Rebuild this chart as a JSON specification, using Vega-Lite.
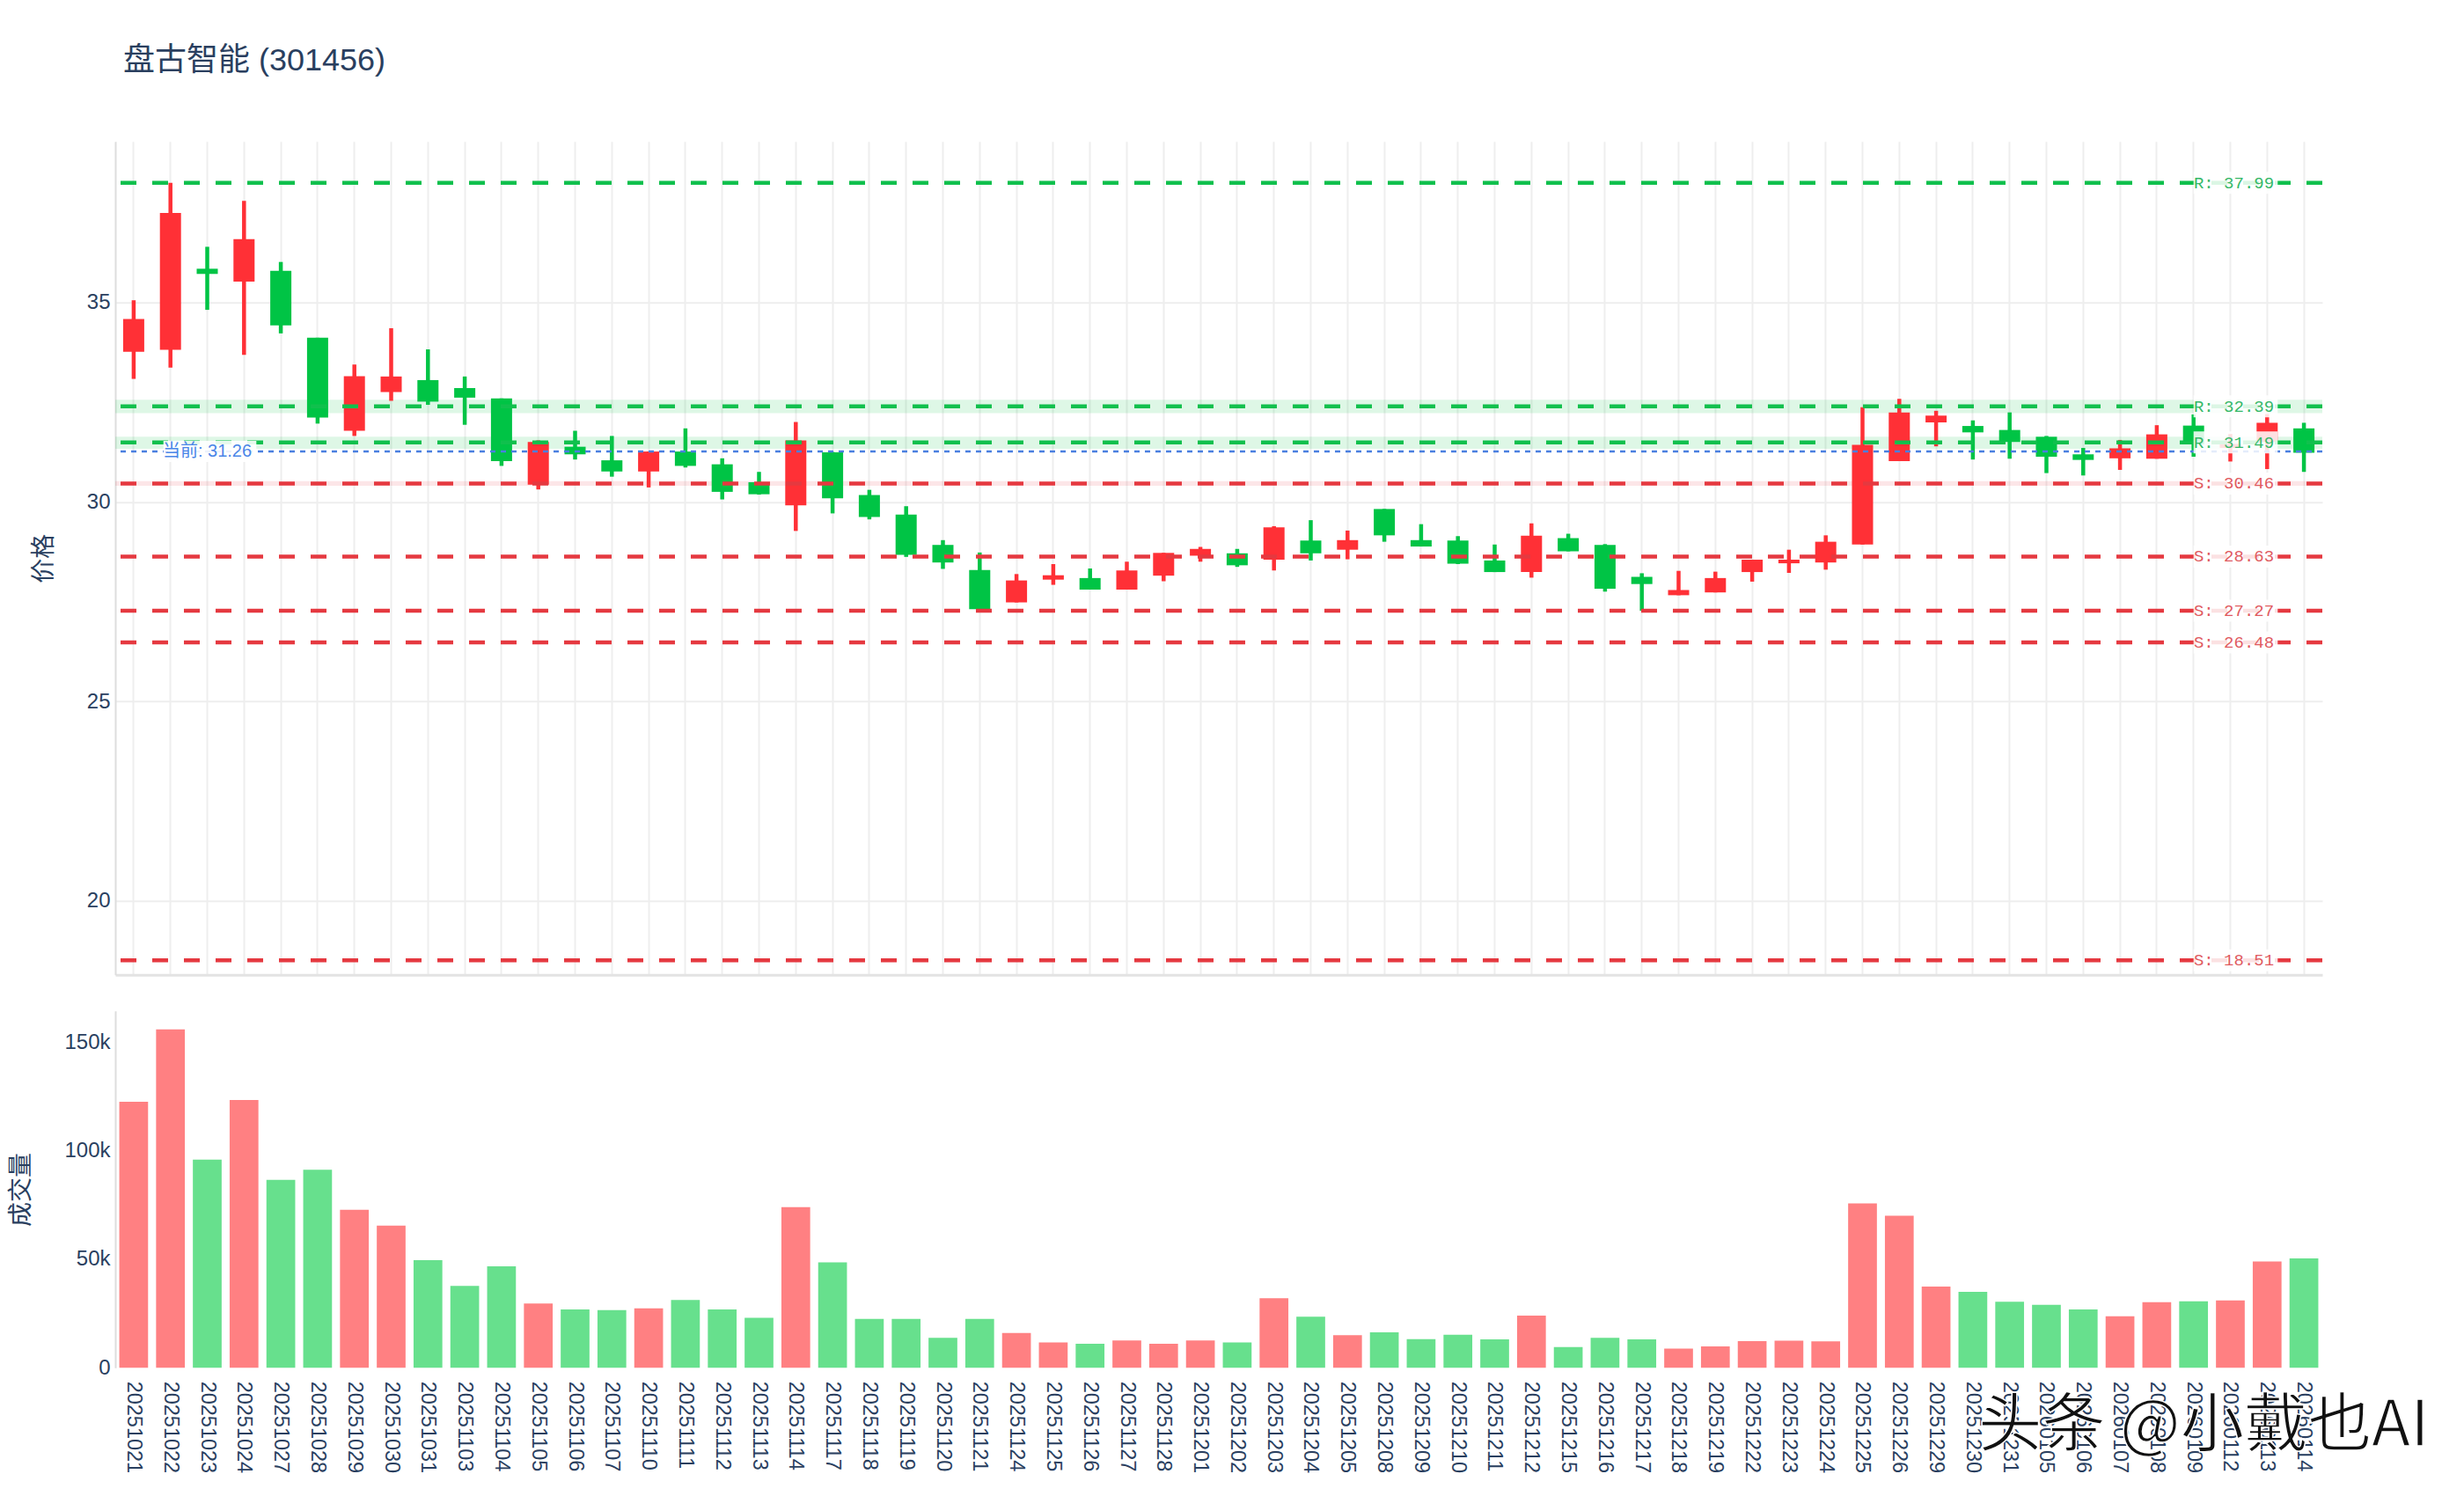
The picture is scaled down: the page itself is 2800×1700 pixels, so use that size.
{"$schema":"https://vega.github.io/schema/vega-lite/v6.json","background":"white","padding":{"left":10,"top":50.7,"right":10,"bottom":0},"spacing":41,"config":{"view":{"stroke":null},"font":"Liberation Sans, Noto Sans CJK SC","axis":{"labelColor":"#2a3f5f","titleColor":"#2a3f5f","labelFont":"Liberation Sans, Noto Sans CJK SC","titleFont":"Noto Sans CJK SC","titleFontWeight":"normal"}},"datasets":{"k":[
{"date":"20251021","top":34.58,"bottom":33.76,"high":35.05,"low":33.08,"vol":122500,"dir":"up"},
{"date":"20251022","top":37.24,"bottom":33.81,"high":37.99,"low":33.36,"vol":155900,"dir":"up"},
{"date":"20251023","top":35.84,"bottom":35.71,"high":36.39,"low":34.81,"vol":95900,"dir":"down"},
{"date":"20251024","top":36.58,"bottom":35.52,"high":37.54,"low":33.68,"vol":123300,"dir":"up"},
{"date":"20251027","top":35.79,"bottom":34.42,"high":36.01,"low":34.22,"vol":86500,"dir":"down"},
{"date":"20251028","top":34.11,"bottom":32.11,"high":34.11,"low":31.96,"vol":91200,"dir":"down"},
{"date":"20251029","top":33.15,"bottom":31.78,"high":33.44,"low":31.65,"vol":72700,"dir":"up"},
{"date":"20251030","top":33.14,"bottom":32.75,"high":34.35,"low":32.53,"vol":65500,"dir":"up"},
{"date":"20251031","top":33.05,"bottom":32.51,"high":33.82,"low":32.43,"vol":49500,"dir":"down"},
{"date":"20251103","top":32.85,"bottom":32.61,"high":33.14,"low":31.93,"vol":37700,"dir":"down"},
{"date":"20251104","top":32.59,"bottom":31.02,"high":32.59,"low":30.9,"vol":46700,"dir":"down"},
{"date":"20251105","top":31.5,"bottom":30.43,"high":31.54,"low":30.31,"vol":29600,"dir":"up"},
{"date":"20251106","top":31.38,"bottom":31.19,"high":31.78,"low":31.06,"vol":26800,"dir":"down"},
{"date":"20251107","top":31.04,"bottom":30.76,"high":31.65,"low":30.63,"vol":26500,"dir":"down"},
{"date":"20251110","top":31.26,"bottom":30.76,"high":31.26,"low":30.36,"vol":27300,"dir":"up"},
{"date":"20251111","top":31.26,"bottom":30.9,"high":31.84,"low":30.86,"vol":31200,"dir":"down"},
{"date":"20251112","top":30.94,"bottom":30.25,"high":31.09,"low":30.06,"vol":26800,"dir":"down"},
{"date":"20251113","top":30.49,"bottom":30.19,"high":30.75,"low":30.18,"vol":23000,"dir":"down"},
{"date":"20251114","top":31.54,"bottom":29.91,"high":32.0,"low":29.27,"vol":74000,"dir":"up"},
{"date":"20251117","top":31.24,"bottom":30.09,"high":31.25,"low":29.71,"vol":48500,"dir":"down"},
{"date":"20251118","top":30.17,"bottom":29.62,"high":30.3,"low":29.56,"vol":22500,"dir":"down"},
{"date":"20251119","top":29.68,"bottom":28.67,"high":29.89,"low":28.62,"vol":22500,"dir":"down"},
{"date":"20251120","top":28.92,"bottom":28.48,"high":29.04,"low":28.32,"vol":13800,"dir":"down"},
{"date":"20251121","top":28.29,"bottom":27.31,"high":28.73,"low":27.28,"vol":22500,"dir":"down"},
{"date":"20251124","top":28.03,"bottom":27.48,"high":28.19,"low":27.48,"vol":16000,"dir":"up"},
{"date":"20251125","top":28.16,"bottom":28.05,"high":28.44,"low":27.92,"vol":11600,"dir":"up"},
{"date":"20251126","top":28.09,"bottom":27.8,"high":28.33,"low":27.8,"vol":11000,"dir":"down"},
{"date":"20251127","top":28.28,"bottom":27.8,"high":28.5,"low":27.8,"vol":12500,"dir":"up"},
{"date":"20251128","top":28.72,"bottom":28.15,"high":28.72,"low":28.01,"vol":11000,"dir":"up"},
{"date":"20251201","top":28.82,"bottom":28.65,"high":28.87,"low":28.5,"vol":12500,"dir":"up"},
{"date":"20251202","top":28.71,"bottom":28.41,"high":28.82,"low":28.37,"vol":11600,"dir":"down"},
{"date":"20251203","top":29.36,"bottom":28.55,"high":29.39,"low":28.28,"vol":32000,"dir":"up"},
{"date":"20251204","top":29.03,"bottom":28.71,"high":29.54,"low":28.53,"vol":23500,"dir":"down"},
{"date":"20251205","top":29.04,"bottom":28.8,"high":29.28,"low":28.56,"vol":15000,"dir":"up"},
{"date":"20251208","top":29.82,"bottom":29.16,"high":29.82,"low":29.0,"vol":16300,"dir":"down"},
{"date":"20251209","top":29.04,"bottom":28.88,"high":29.44,"low":28.88,"vol":13200,"dir":"down"},
{"date":"20251210","top":29.03,"bottom":28.45,"high":29.14,"low":28.44,"vol":15200,"dir":"down"},
{"date":"20251211","top":28.53,"bottom":28.24,"high":28.93,"low":28.24,"vol":13000,"dir":"down"},
{"date":"20251212","top":29.15,"bottom":28.24,"high":29.46,"low":28.1,"vol":24000,"dir":"up"},
{"date":"20251215","top":29.09,"bottom":28.76,"high":29.2,"low":28.76,"vol":9500,"dir":"down"},
{"date":"20251216","top":28.92,"bottom":27.82,"high":28.94,"low":27.75,"vol":13800,"dir":"down"},
{"date":"20251217","top":28.12,"bottom":27.94,"high":28.21,"low":27.27,"vol":13000,"dir":"down"},
{"date":"20251218","top":27.79,"bottom":27.66,"high":28.27,"low":27.66,"vol":8800,"dir":"up"},
{"date":"20251219","top":28.09,"bottom":27.73,"high":28.25,"low":27.73,"vol":9800,"dir":"up"},
{"date":"20251222","top":28.55,"bottom":28.24,"high":28.55,"low":28.0,"vol":12250,"dir":"up"},
{"date":"20251223","top":28.55,"bottom":28.46,"high":28.8,"low":28.22,"vol":12400,"dir":"up"},
{"date":"20251224","top":29.0,"bottom":28.48,"high":29.16,"low":28.3,"vol":12100,"dir":"up"},
{"date":"20251225","top":31.43,"bottom":28.93,"high":32.37,"low":28.93,"vol":75700,"dir":"up"},
{"date":"20251226","top":32.24,"bottom":31.02,"high":32.58,"low":31.02,"vol":70000,"dir":"up"},
{"date":"20251229","top":32.16,"bottom":31.99,"high":32.28,"low":31.39,"vol":37400,"dir":"up"},
{"date":"20251230","top":31.9,"bottom":31.74,"high":32.04,"low":31.06,"vol":34900,"dir":"down"},
{"date":"20251231","top":31.8,"bottom":31.5,"high":32.24,"low":31.08,"vol":30400,"dir":"down"},
{"date":"20260105","top":31.63,"bottom":31.13,"high":31.65,"low":30.72,"vol":29000,"dir":"down"},
{"date":"20260106","top":31.19,"bottom":31.05,"high":31.35,"low":30.66,"vol":26800,"dir":"down"},
{"date":"20260107","top":31.34,"bottom":31.09,"high":31.55,"low":30.8,"vol":23700,"dir":"up"},
{"date":"20260108","top":31.69,"bottom":31.08,"high":31.92,"low":31.08,"vol":30200,"dir":"up"},
{"date":"20260109","top":31.91,"bottom":31.44,"high":32.19,"low":31.13,"vol":30600,"dir":"down"},
{"date":"20260112","top":31.45,"bottom":31.35,"high":31.7,"low":31.01,"vol":31000,"dir":"up"},
{"date":"20260113","top":31.98,"bottom":31.5,"high":32.2,"low":30.82,"vol":48900,"dir":"up"},
{"date":"20260114","top":31.84,"bottom":31.23,"high":31.98,"low":30.75,"vol":50300,"dir":"down"}],
"levels":[
{"price":37.99,"kind":"R","label":"R: 37.99"},
{"price":32.39,"kind":"R","label":"R: 32.39"},
{"price":31.49,"kind":"R","label":"R: 31.49"},
{"price":30.46,"kind":"S","label":"S: 30.46"},
{"price":28.63,"kind":"S","label":"S: 28.63"},
{"price":27.27,"kind":"S","label":"S: 27.27"},
{"price":26.48,"kind":"S","label":"S: 26.48"},
{"price":18.51,"kind":"S","label":"S: 18.51"}],
"zones":[
{"lo":32.22,"hi":32.56,"kind":"R"},
{"lo":31.33,"hi":31.63,"kind":"R"},
{"lo":30.4,"hi":30.52,"kind":"S"}],
"current":[{"price":31.26,"label":"当前: 31.26"}],
"mark":[{"label":"头条 @小戴也AI"}]},
"vconcat":[
{"width":2508,"height":947,
"title":{"text":"盘古智能 (301456)","anchor":"start","frame":"group","dx":9,"offset":72.7,"fontSize":36,"font":"Liberation Sans, Noto Sans CJK SC","fontWeight":"normal","color":"#2a3f5f"},
"encoding":{"x":{"field":"date","type":"ordinal","sort":null,"scale":{"type":"band","paddingInner":0,"paddingOuter":0},"axis":{"title":null,"labels":false,"ticks":false,"grid":true,"gridColor":"#eeeeee","gridWidth":2,"domainColor":"#e3e3e3","domainWidth":3}}},
"layer":[
{"data":{"name":"zones"},"mark":{"type":"rect","opacity":0.13},"encoding":{"x":null,"y":{"field":"lo","type":"quantitative","scale":{"domain":[18.15,39.03],"nice":false,"zero":false},"axis":{"values":[20,25,30,35],"title":"价格","titleFontSize":28,"titleX":-81,"titleBaseline":"middle","labelFontSize":24,"labelPadding":6,"ticks":false,"grid":true,"gridColor":"#eeeeee","gridWidth":2,"domainColor":"#dddddd","domainWidth":2}},"y2":{"field":"hi"},"color":{"field":"kind","type":"nominal","scale":{"domain":["R","S"],"range":["#00c040","#e63946"]},"legend":null}}},
{"data":{"name":"k"},"mark":{"type":"rule","strokeWidth":4.5},"encoding":{"y":{"field":"low","type":"quantitative"},"y2":{"field":"high"},"color":{"field":"dir","type":"nominal","scale":{"domain":["up","down"],"range":["#ff3036","#00c445"]},"legend":null}}},
{"data":{"name":"k"},"mark":{"type":"bar","size":24},"encoding":{"y":{"field":"bottom","type":"quantitative"},"y2":{"field":"top"},"color":{"field":"dir","type":"nominal","scale":{"domain":["up","down"],"range":["#ff3036","#00c445"]},"legend":null}}},
{"data":{"name":"levels"},"mark":{"type":"rule","strokeWidth":4.5,"strokeDash":[18,18]},"encoding":{"x":null,"y":{"field":"price","type":"quantitative"},"color":{"field":"kind","type":"nominal","scale":{"domain":["R","S"],"range":["#10c04d","#e53940"]},"legend":null}}},
{"data":{"name":"current"},"mark":{"type":"rule","strokeWidth":2.5,"strokeDash":[6,6],"color":"#4a7fe0"},"encoding":{"x":null,"y":{"field":"price","type":"quantitative"}}},
{"data":{"name":"current"},"mark":{"type":"rule","strokeWidth":24,"color":"white","opacity":0.9,"xOffset":-8,"x2Offset":14},"encoding":{"x":{"datum":"20251022","type":"ordinal"},"x2":{"datum":"20251024"},"y":{"field":"price","type":"quantitative"}}},
{"data":{"name":"current"},"mark":{"type":"text","fontSize":20,"color":"#4a86e8","font":"Liberation Sans, Noto Sans CJK SC"},"encoding":{"x":{"datum":"20251023","type":"ordinal"},"y":{"field":"price","type":"quantitative"},"text":{"field":"label"}}},
{"data":{"name":"levels"},"mark":{"type":"rule","strokeWidth":25,"color":"white","opacity":0.85,"x2Offset":12},"encoding":{"x":{"datum":"20260109","type":"ordinal"},"x2":{"datum":"20260113"},"y":{"field":"price","type":"quantitative"}}},
{"data":{"name":"levels"},"mark":{"type":"text","fontSize":19,"font":"Liberation Mono","dx":4},"encoding":{"x":{"datum":"20260112","type":"ordinal"},"y":{"field":"price","type":"quantitative"},"text":{"field":"label"},"color":{"field":"kind","type":"nominal","scale":{"domain":["R","S"],"range":["#35b868","#e05a5f"]},"legend":null}}}
],"resolve":{"scale":{"color":"independent"}}},
{"width":2508,"height":405.5,
"encoding":{"x":{"field":"date","type":"ordinal","sort":null,"scale":{"type":"band","paddingInner":0,"paddingOuter":0},"axis":{"title":null,"labelAngle":90,"labelAlign":"left","labelBaseline":"middle","labelFontSize":23.5,"labelPadding":15,"labelOverlap":false,"ticks":false,"domain":false,"grid":false}}},
"layer":[
{"data":{"name":"k"},"mark":{"type":"bar","size":32.7},"encoding":{"y":{"field":"vol","type":"quantitative","scale":{"domain":[0,164400],"nice":false},"axis":{"values":[0,50000,100000,150000],"labelExpr":"datum.value === 0 ? '0' : format(datum.value, '~s')","title":"成交量","titleFontSize":28,"titleX":-107,"titleBaseline":"middle","labelFontSize":24,"labelPadding":6,"ticks":false,"grid":false,"domainColor":"#dddddd","domainWidth":2}},"color":{"field":"dir","type":"nominal","scale":{"domain":["up","down"],"range":["#ff8082","#67e08d"]},"legend":null}}},
{"data":{"name":"mark"},"mark":{"type":"text","fontSize":72.5,"font":"Noto Sans CJK SC","color":"#111111","stroke":"white","strokeWidth":1.5,"align":"left","dx":6},"encoding":{"x":{"datum":"20251230","type":"ordinal"},"y":{"datum":-27000,"type":"quantitative"},"text":{"field":"label"}}}
]}
]}
